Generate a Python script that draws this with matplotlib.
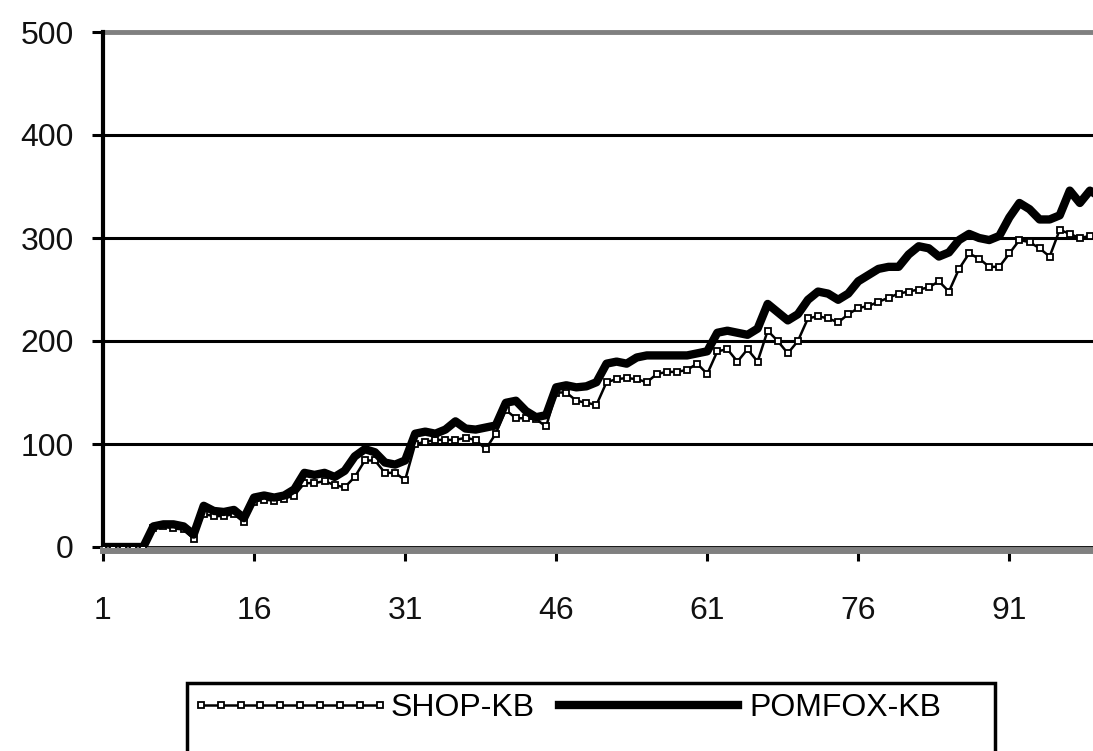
import numpy as np
import matplotlib
matplotlib.use('Agg')
import matplotlib.pyplot as plt
from matplotlib.patches import Rectangle

plt.rcParams['font.family'] = ['Liberation Sans', 'DejaVu Sans']

# categories 1..100
runs = list(range(1, 101))

shop_kb = [0, 0, 0, 0, 0, 18, 20, 18, 17, 8,
           32, 30, 30, 32, 24, 44, 46, 45, 47, 50,
           62, 62, 64, 60, 58, 68, 84, 84, 72, 72,
           65, 100, 102, 104, 104, 104, 106, 104, 95, 110,
           133, 125, 125, 124, 117, 150, 150, 142, 140, 138,
           160, 163, 164, 163, 160, 168, 170, 170, 172, 178,
           168, 190, 192, 180, 192, 180, 210, 200, 188, 200,
           222, 224, 222, 218, 226, 232, 234, 238, 242, 246,
           248, 250, 252, 258, 248, 270, 285, 280, 272, 272,
           285, 298, 296, 290, 282, 308, 304, 300, 302, 298]

pomfox_kb = [0, 0, 0, 0, 0, 20, 22, 22, 20, 12,
             40, 35, 34, 36, 28, 48, 50, 48, 50, 56,
             72, 70, 72, 68, 74, 88, 95, 92, 82, 80,
             84, 110, 112, 110, 114, 122, 115, 114, 116, 118,
             140, 142, 132, 126, 128, 155, 157, 155, 156, 160,
             178, 180, 178, 184, 186, 186, 186, 186, 186, 188,
             190, 208, 210, 208, 206, 212, 236, 228, 220, 226,
             240, 248, 246, 240, 246, 258, 264, 270, 272, 272,
             284, 292, 290, 282, 286, 298, 304, 300, 298, 302,
             320, 334, 328, 318, 318, 322, 346, 334, 346, 340]

xticks = [1, 16, 31, 46, 61, 76, 91]
yticks = [0, 100, 200, 300, 400, 500]

W, H = 1093, 751
fig = plt.figure(figsize=(W / 100, H / 100), dpi=100)
# plot area runs past the right edge of the picture
ax = fig.add_axes([103 / W, 1 - 547 / H, (1100 - 103) / W, 515 / H])

for y in yticks[1:-1]:
    ax.axhline(y, color='black', lw=2.2, zorder=1)
ax.axhline(500, color='#808080', lw=3.5, zorder=1, clip_on=False)
ax.axhline(0, color='black', lw=2.0, zorder=2, clip_on=False)

l1, = ax.plot(runs, shop_kb, color='black', lw=1.8, marker='s', ms=4.5,
              mfc='white', mec='black', mew=1.3, zorder=3, label='SHOP-KB')
l2, = ax.plot(runs, pomfox_kb, color='black', lw=6, zorder=4,
              solid_joinstyle='round', label='POMFOX-KB')

ax.set_xlim(1, 100)
ax.set_ylim(0, 500)
ax.set_xticks(xticks)
ax.set_yticks(yticks)

for s in ['top', 'right']:
    ax.spines[s].set_visible(False)
ax.spines['bottom'].set_color('#808080')
ax.spines['bottom'].set_linewidth(5)
ax.spines['bottom'].set_position(('outward', 2))
ax.spines['left'].set_color('black')
ax.spines['left'].set_linewidth(3)

ax.tick_params(axis='y', direction='out', length=8, width=2.2, color='black',
               labelsize=23, pad=13, labelcolor='#111111')
ax.tick_params(axis='x', direction='out', length=8, width=2.2, color='black',
               labelsize=23, pad=25, labelcolor='#111111')

# legend box, bottom cut off by picture edge
fig.patches.append(Rectangle((187 / W, 1 - 765 / H), (995 - 187) / W, (765 - 683) / H,
                             transform=fig.transFigure, fill=False,
                             edgecolor='black', lw=2.5))
fig.legend(handles=[l1, l2], loc='upper left', bbox_to_anchor=(188 / W, 1 - 690 / H),
           ncol=2, frameon=False, fontsize=23, handlelength=6.2, handletextpad=0.05,
           columnspacing=0.45, numpoints=10, borderaxespad=0, borderpad=0.1)

fig.savefig('out.png', dpi=100)
